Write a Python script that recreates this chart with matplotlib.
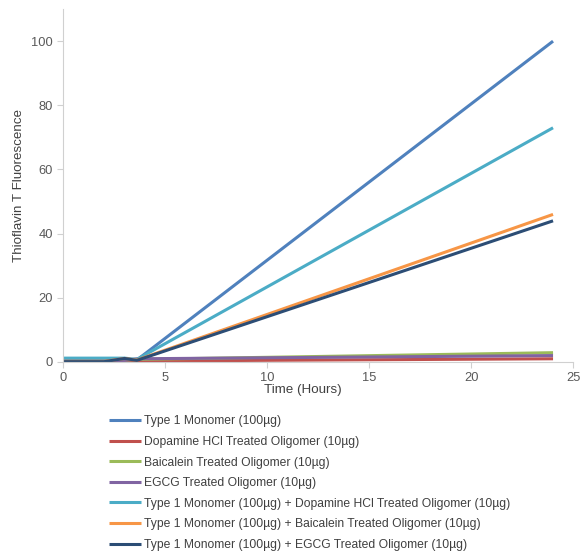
import matplotlib
matplotlib.use('Agg')
import matplotlib.pyplot as plt

plt.rc('font', family=['Liberation Sans', 'DejaVu Sans'], size=8)

# time points (hours) and ThT fluorescence readings
tiempo = [0, 1, 2, 3, 3.6, 24]
type1 = [0.3, 0.3, 0.3, 0.8, 0.6, 100]
dopamina = [0.2, 0.2, 0.2, 0.2, 0.3, 1.0]
baicaleina = [0.5, 0.5, 0.5, 0.6, 0.8, 2.9]
egcg = [0.4, 0.4, 0.4, 0.5, 1.0, 2.0]
type1_dopamina = [1.2, 1.2, 1.2, 1.2, 0.8, 73]
type1_baicaleina = [0.2, 0.2, 0.2, 1.1, 0.6, 46]
type1_egcg = [0.1, 0.1, 0.1, 1.1, 0.5, 44]

series = [
    (type1, 'Type 1 Monomer (100µg)', '#4F81BD'),
    (dopamina, 'Dopamine HCl Treated Oligomer (10µg)', '#C0504D'),
    (baicaleina, 'Baicalein Treated Oligomer (10µg)', '#9BBB59'),
    (egcg, 'EGCG Treated Oligomer (10µg)', '#8064A2'),
    (type1_dopamina, 'Type 1 Monomer (100µg) + Dopamine HCl Treated Oligomer (10µg)', '#4BACC6'),
    (type1_baicaleina, 'Type 1 Monomer (100µg) + Baicalein Treated Oligomer (10µg)', '#F79646'),
    (type1_egcg, 'Type 1 Monomer (100µg) + EGCG Treated Oligomer (10µg)', '#2C4D75'),
]

fig = plt.figure(figsize=(5.81, 5.54), dpi=100)
ax = fig.add_axes([0.109, 0.3466, 0.878, 0.637])

lineas = []
for valores, nombre, color in series:
    l, = ax.plot(tiempo, valores, color=color, lw=2.2, label=nombre, solid_capstyle='butt')
    lineas.append(l)

ax.set_xlim(0, 25)
ax.set_ylim(0, 110)
ax.set_xticks([0, 5, 10, 15, 20, 25])
ax.set_yticks([0, 20, 40, 60, 80, 100])

for s in ['top', 'right']:
    ax.spines[s].set_visible(False)
for s in ['left', 'bottom']:
    ax.spines[s].set_color('#D0D0D0')
    ax.spines[s].set_linewidth(0.8)
ax.tick_params(colors='#D0D0D0', labelcolor='#595959', length=4, width=0.8, labelsize=9.3)

ax.set_xlabel('Time (Hours)', color='#404040', fontsize=9.6)
ax.xaxis.set_label_coords(0.47, -0.062)
ax.set_ylabel('Thioflavin T Fluorescence', color='#404040', fontsize=9.6)
ax.yaxis.set_label_coords(-0.075, 0.5)

fig.legend(handles=lineas, loc='upper left', bbox_to_anchor=(0.18, 0.259),
           frameon=False, fontsize=8.7, handlelength=2.6, handletextpad=0.3,
           labelspacing=0.71, labelcolor='#404040', borderaxespad=0)

plt.savefig('out.png', dpi=100)
